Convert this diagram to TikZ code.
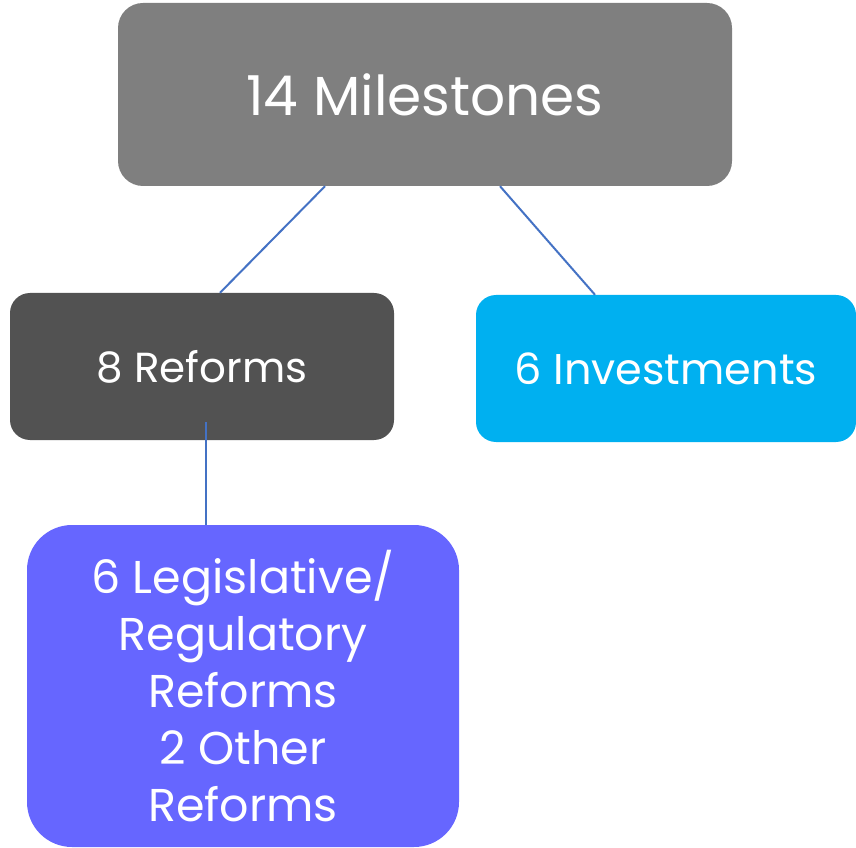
\documentclass[tikz,border=0pt]{standalone}
\usepackage{fontspec}
\setmainfont{Poppins}
\usetikzlibrary{calc}
\definecolor{topgray}{HTML}{7F7F7F}
\definecolor{darkgray}{HTML}{525252}
\definecolor{cyanbox}{HTML}{00B0F0}
\definecolor{violetbox}{HTML}{6666FF}
\definecolor{linkblue}{HTML}{4472C4}
\begin{document}
\begin{tikzpicture}[x=1pt, y=1pt, box/.style={rectangle, rounded corners=25pt, text=white, inner sep=0pt, align=center}, link/.style={draw=linkblue, line width=2pt}]
\useasboundingbox (0,0) rectangle (856,847);
\node[box, fill=topgray, minimum width=614pt, minimum height=183pt, font=\fontsize{55}{60}\selectfont] (top) at (425,752.5) {14 Milestones};
\node[box, fill=darkgray, rounded corners=20pt, minimum width=384pt, minimum height=147pt, font=\fontsize{42}{46}\selectfont] (reforms) at (202,480.5) {8 Reforms};
\node[box, fill=cyanbox, rounded corners=20pt, minimum width=380pt, minimum height=147pt, font=\fontsize{43}{46}\selectfont] (invest) at (666,478.5) {6 Investments};
\node[box, fill=violetbox, rounded corners=45pt, minimum width=432pt, minimum height=322pt, font=\fontsize{46}{57}\selectfont] (other) at (243,161) {6 Legislative/\\Regulatory\\Reforms\\2 Other\\Reforms};
\path[link]
($(top.south)+(-100,0)$) edge ($(reforms.north)+(18,0)$)
($(top.south)+(75,0)$) edge ($(invest.north)+(-71,0)$)
($(reforms.south)+(4,18)$) edge ($(other.north)+(-37,0)$);
\end{tikzpicture}
\end{document}
